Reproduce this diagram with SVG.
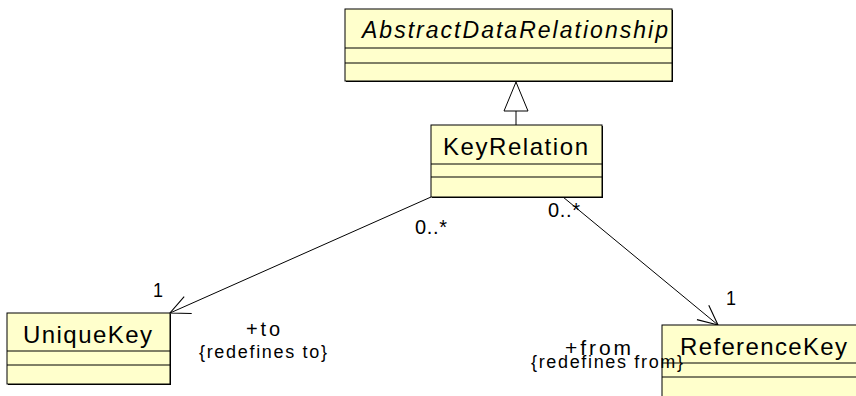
<svg xmlns="http://www.w3.org/2000/svg" width="856" height="396" viewBox="0 0 856 396">
<style>
.box{fill:#ffffcc;stroke:#000;stroke-width:1}
.sh{fill:#000}
.ln{stroke:#000;stroke-width:1;fill:none}
.t{font-family:"Liberation Sans",Arial,sans-serif;fill:#000}
.cn{font-size:24px}
.lb{font-size:20px}
.sm{font-size:18px}
</style>
<defs>
<marker id="open" markerUnits="userSpaceOnUse" markerWidth="24" markerHeight="24" viewBox="-20 -10 22 20" refX="0" refY="0" orient="auto">
<path d="M -18 -8.5 L 0 0 L -18 8.5" fill="none" stroke="#000" stroke-width="1"/>
</marker>
</defs>
<rect width="856" height="396" fill="#fff"/>
<g id="connectors">
<line class="ln" x1="431" y1="197" x2="170" y2="313" marker-end="url(#open)"/>
<line class="ln" x1="563" y1="197" x2="718" y2="325" marker-end="url(#open)"/>
<line class="ln" x1="516" y1="111" x2="516" y2="125"/>
<polygon points="516,82 528,111 504,111" fill="#fff" stroke="#000" stroke-width="1"/>
</g>
<g id="AbstractDataRelationship">
<rect class="sh" x="346" y="10" width="327" height="72"/>
<rect class="box" x="345" y="9" width="327" height="72"/>
<line class="ln" x1="345" y1="48" x2="672" y2="48"/>
<line class="ln" x1="345" y1="63" x2="672" y2="63"/>
<text class="t" x="362" y="38" font-size="23" font-style="italic" textLength="306" lengthAdjust="spacing">AbstractDataRelationship</text>
</g>
<g id="KeyRelation">
<rect class="sh" x="432" y="126" width="171" height="72"/>
<rect class="box" x="431" y="125" width="171" height="72"/>
<line class="ln" x1="431" y1="164" x2="602" y2="164"/>
<line class="ln" x1="431" y1="177" x2="602" y2="177"/>
<text class="t cn" x="443" y="155" textLength="145" lengthAdjust="spacing">KeyRelation</text>
</g>
<g id="UniqueKey">
<rect class="sh" x="8" y="314" width="163" height="71"/>
<rect class="box" x="7" y="313" width="163" height="71"/>
<line class="ln" x1="7" y1="351" x2="170" y2="351"/>
<line class="ln" x1="7" y1="365" x2="170" y2="365"/>
<text class="t cn" x="23" y="343" textLength="129" lengthAdjust="spacing">UniqueKey</text>
</g>
<g id="ReferenceKey">
<rect class="sh" x="663" y="326" width="200" height="80"/>
<rect class="box" x="662" y="325" width="200" height="80"/>
<line class="ln" x1="662" y1="363" x2="862" y2="363"/>
<line class="ln" x1="662" y1="377" x2="862" y2="377"/>
<text class="t cn" x="680" y="355" textLength="167" lengthAdjust="spacing">ReferenceKey</text>
</g>
<g id="labels">
<text class="t lb" x="153" y="297" textLength="10" lengthAdjust="spacingAndGlyphs">1</text>
<text class="t lb" x="415" y="234" textLength="32" lengthAdjust="spacing">0..*</text>
<text class="t lb" x="548" y="217" textLength="32" lengthAdjust="spacing">0..*</text>
<text class="t lb" x="726" y="305" textLength="10" lengthAdjust="spacingAndGlyphs">1</text>
<text class="t lb" x="246" y="336" textLength="34" lengthAdjust="spacing">+to</text>
<text class="t sm" x="199" y="358" textLength="128" lengthAdjust="spacing">{redefines to}</text>
<text class="t" font-size="21" x="565" y="355" textLength="66" lengthAdjust="spacing">+from</text>
<text class="t sm" x="531" y="368" textLength="152" lengthAdjust="spacing">{redefines from}</text>
</g>
</svg>
